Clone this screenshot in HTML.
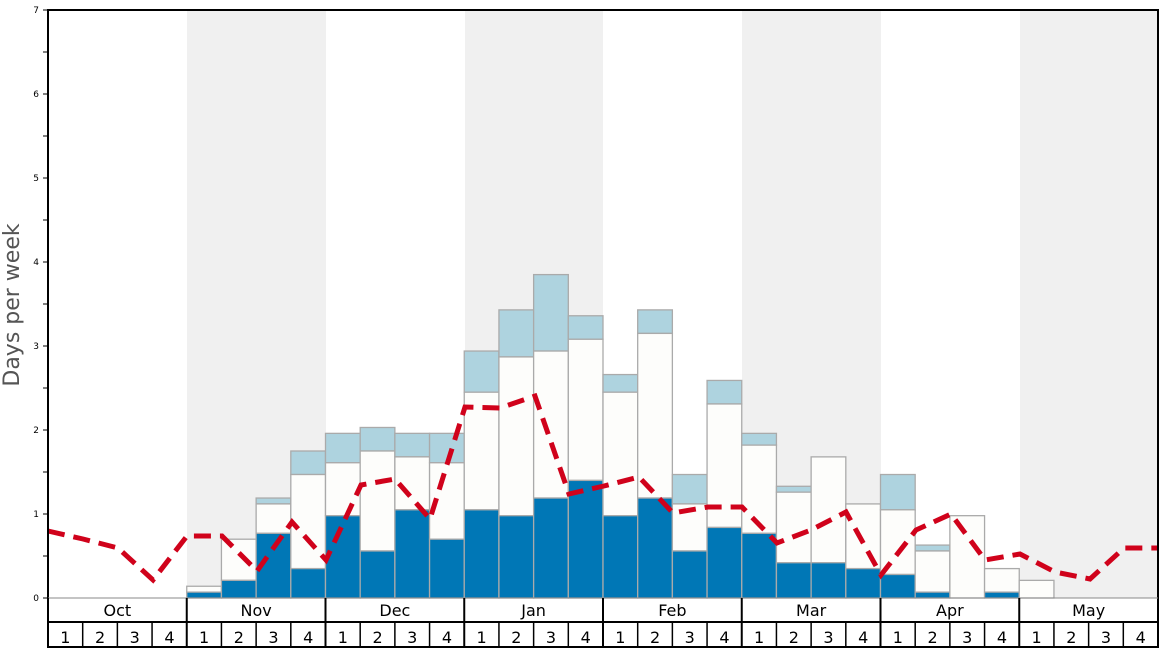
<!DOCTYPE html>
<html><head><style>body{margin:0;background:#fff}svg{display:block;font-family:"DejaVu Sans","Liberation Sans",sans-serif}</style></head><body>
<svg width="1168" height="648" xmlns="http://www.w3.org/2000/svg">
<rect width="1168" height="648" fill="#fff"/>
<g fill="#f0f0f0">
<rect x="187" y="10" width="139" height="588"/>
<rect x="465" y="10" width="138" height="588"/>
<rect x="742" y="10" width="139" height="588"/>
<rect x="1020" y="10" width="138" height="588"/>
</g>
<g id="bars" stroke="#aaa" stroke-width="1.3"></g>
<polyline fill="none" stroke="#d0021b" stroke-width="5" stroke-dasharray="17,9" points="48,531 83,539 118,548 153,580 187,536 222,536 257,571 292,522 326,560 361,485 395,479 430,519 465,407 500,408 535,396 569,494 604,486 639,477 673,513 708,507 742,507 777,543 811,530 846,512 881,575 916,530 951,514 985,560 1020,554 1055,572 1090,579 1124,548 1158,548"/>
<g stroke="#000" fill="none">
<rect x="48" y="10" width="1110" height="637" stroke-width="2"/>
<line x1="48" y1="598" x2="1158" y2="598" stroke="#888"/>
<line x1="48" y1="622" x2="1158" y2="622" stroke-width="2"/>
</g>
<g id="ax" font-size="16" text-anchor="middle"></g>
<g id="yt" font-size="9" text-anchor="end"></g>
<text transform="translate(19,305) rotate(-90)" font-size="22" fill="#555" text-anchor="middle">Days per week</text>
<script>
var ns="http://www.w3.org/2000/svg";
function el(p,t,a,txt){var e=document.createElementNS(ns,t);for(var k in a)e.setAttribute(k,a[k]);if(txt!=null)e.textContent=txt;p.appendChild(e);return e;}
var W=1110/32, Y=v=>598-84*v;
var d=[[8,.07,.14,0],[9,.21,.7,0],[10,.77,1.12,1.19],[11,.35,1.47,1.75],[12,.98,1.61,1.96],[13,.56,1.75,2.03],[14,1.05,1.68,1.96],[15,.7,1.61,1.96],
[16,1.05,2.45,2.94],[17,.98,2.87,3.43],[18,1.19,2.94,3.85],[19,1.4,3.08,3.36],[20,.98,2.45,2.66],[21,1.19,3.15,3.43],[22,.56,1.12,1.47],[23,.84,2.31,2.59],
[24,.77,1.82,1.96],[25,.42,1.26,1.33],[26,.42,1.68,0],[27,.35,1.12,0],[28,.28,1.05,1.47],[29,.07,.56,.63],[30,0,.98,0],[31,.07,.35,0],[32,0,.21,0]];
var b=document.getElementById('bars');
d.forEach(function(r){var x=48+W*r[0];
 if(r[3])el(b,'rect',{x:x,y:Y(r[3]),width:W,height:84*(r[3]-r[2]),fill:'#aed3df'});
 el(b,'rect',{x:x,y:Y(r[2]),width:W,height:84*(r[2]-r[1]),fill:'#fdfdfb'});
 if(r[1])el(b,'rect',{x:x,y:Y(r[1]),width:W,height:84*r[1],fill:'#0077b6'});
});
// fix: index offset (first entry Nov1 = week 4)
b.querySelectorAll('rect').forEach(function(e){e.setAttribute('x',+e.getAttribute('x')-4*W);});
var ax=document.getElementById('ax');
var m=['Oct','Nov','Dec','Jan','Feb','Mar','Apr','May'];
for(var i=0;i<8;i++){var x=48+i*4*W;
 el(ax,'text',{x:x+2*W,y:616},m[i]);
 el(ax,'line',{x1:x,y1:598,x2:x,y2:648,stroke:'#000','stroke-width':2});
 for(var j=0;j<4;j++){var wx=x+j*W;el(ax,'line',{x1:wx,y1:622,x2:wx,y2:648,stroke:'#000','stroke-width':1.5});el(ax,'text',{x:wx+W/2,y:643},j+1);}
}
var yt=document.getElementById('yt');
for(var v=0;v<=7;v+=0.5){var y=Y(v);el(yt,'line',{x1:43,y1:y,x2:48,y2:y,stroke:'#000'});if(v%1==0)el(yt,'text',{x:39,y:y+3},v);}
</script>
</svg>
</body></html>
